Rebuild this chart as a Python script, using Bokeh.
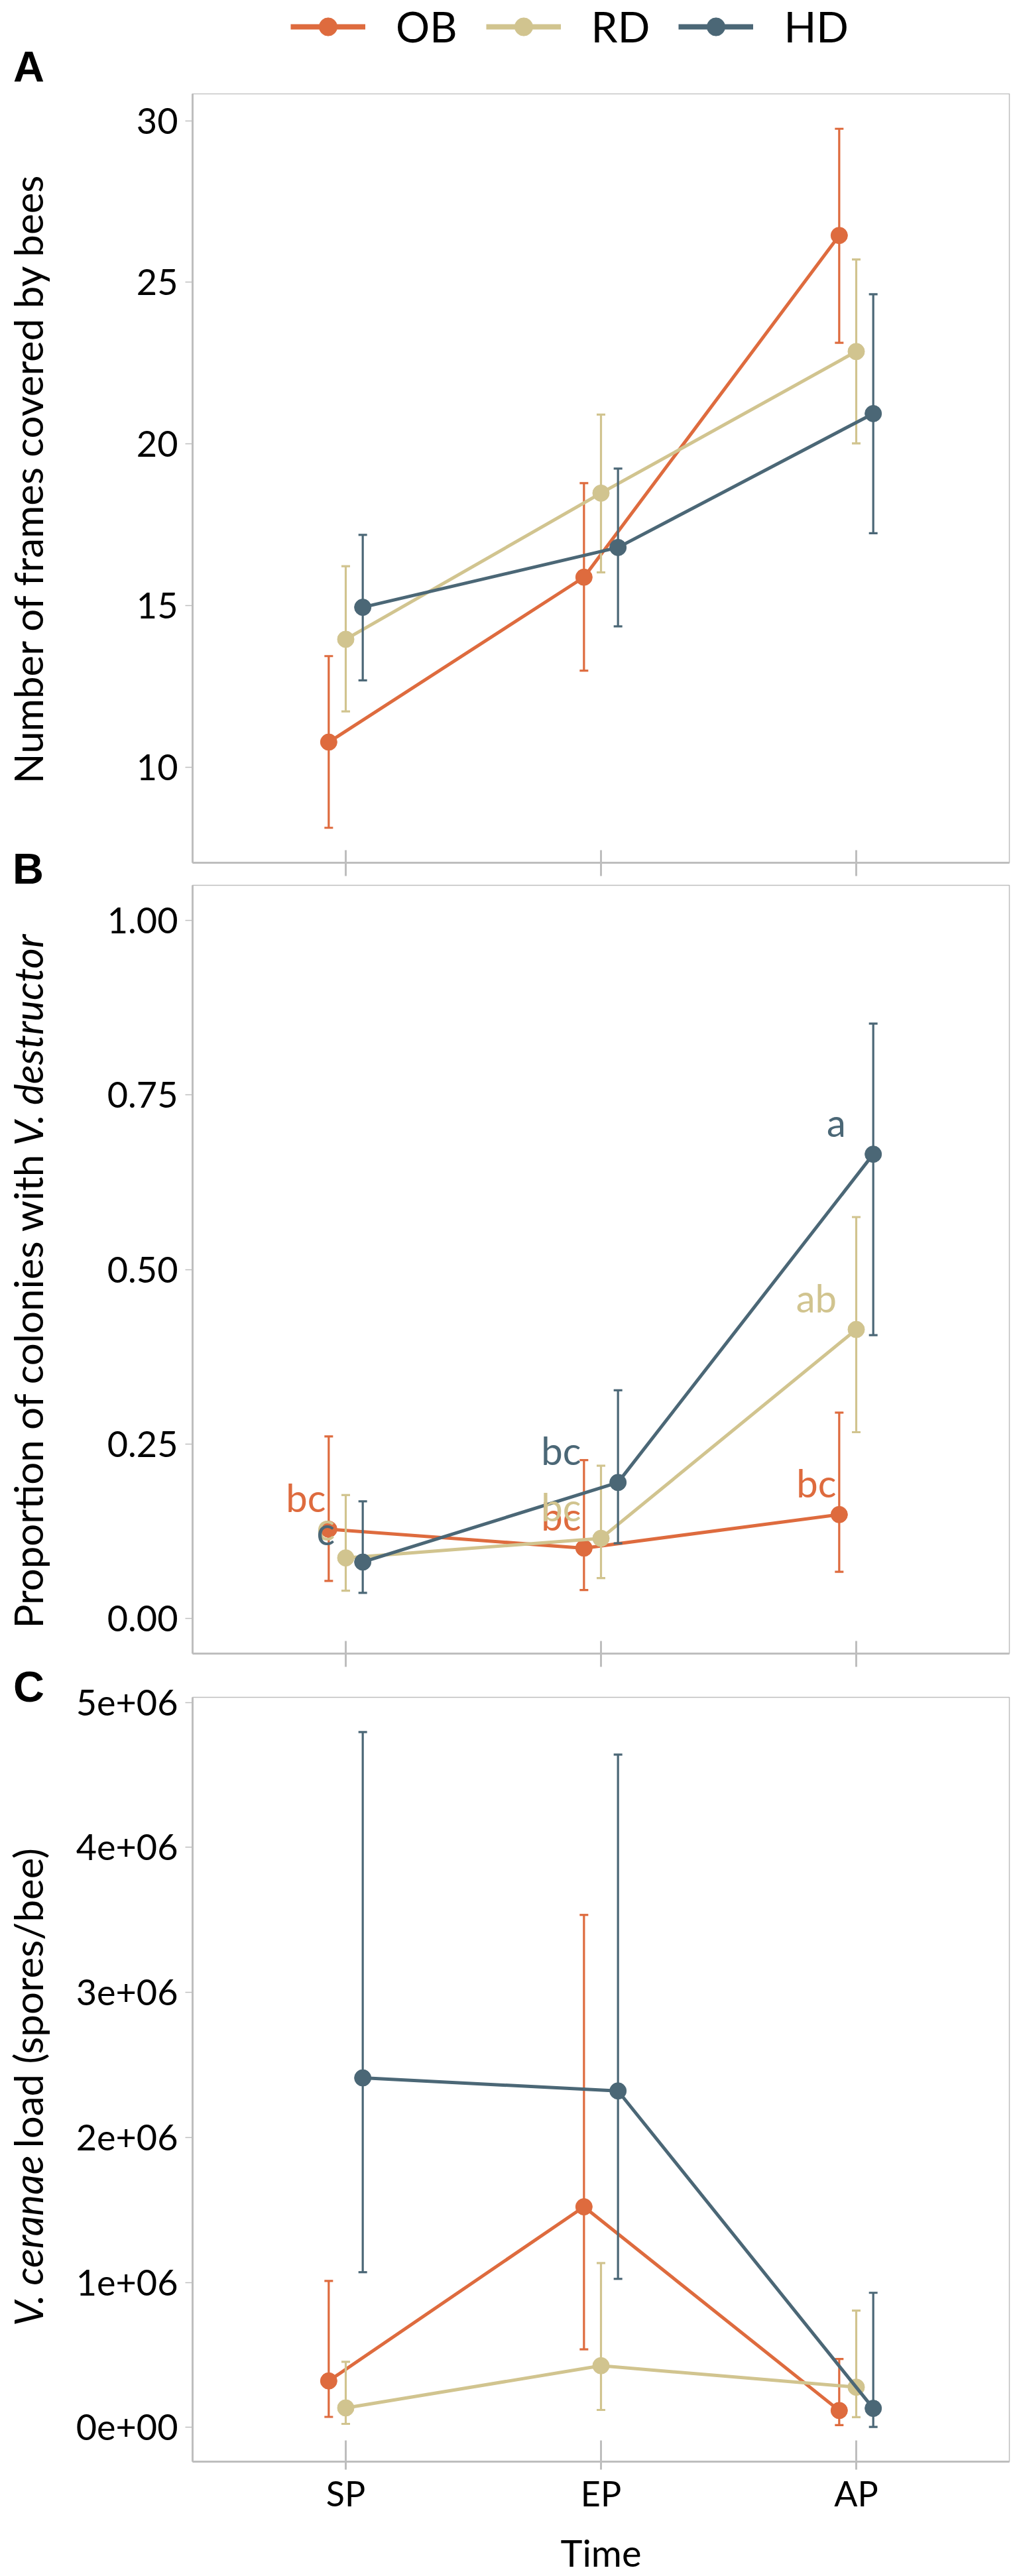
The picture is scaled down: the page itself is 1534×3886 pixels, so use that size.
import math
from bokeh.plotting import figure
from bokeh.models import Legend, LegendItem, FixedTicker, Range1d, ColumnDataSource
from bokeh.layouts import column, row
from bokeh.embed import file_html
from bokeh.resources import INLINE
from bokeh.core.properties import value

# ---------------- data ----------------
times = ["SP", "EP", "AP"]
groups = ["OB", "RD", "HD"]
colors = {"OB": "#DE6B3E", "RD": "#D1C48F", "HD": "#4B6776"}

frames_mean = {"OB": [10.78, 15.88, 26.45], "RD": [13.96, 18.48, 22.86], "HD": [14.95, 16.80, 20.94]}
frames_lo = {"OB": [8.13, 12.99, 23.13], "RD": [11.73, 16.03, 20.02], "HD": [12.69, 14.36, 17.24]}
frames_hi = {"OB": [13.44, 18.79, 29.75], "RD": [16.22, 20.91, 25.71], "HD": [17.19, 19.24, 24.63]}

varroa_mean = {"OB": [0.128, 0.101, 0.149], "RD": [0.087, 0.115, 0.414], "HD": [0.081, 0.195, 0.665]}
varroa_lo = {"OB": [0.054, 0.041, 0.067], "RD": [0.040, 0.058, 0.267], "HD": [0.037, 0.108, 0.406]}
varroa_hi = {"OB": [0.261, 0.227, 0.295], "RD": [0.177, 0.219, 0.575], "HD": [0.168, 0.327, 0.852]}
varroa_letters = {"OB": ["bc", "bc", "bc"], "RD": ["c", "bc", "ab"], "HD": ["c", "bc", "a"]}

nosema_mean = {"OB": [320000, 1521000, 116000], "RD": [134000, 425000, 277000], "HD": [2410000, 2320000, 131000]}
nosema_lo = {"OB": [72000, 538000, 15000], "RD": [24000, 120000, 70000], "HD": [1070000, 1024000, 3000]}
nosema_hi = {"OB": [1010000, 3534000, 471000], "RD": [452000, 1133000, 805000], "HD": [4795000, 4640000, 928000]}

a_ticks = [10, 15, 20, 25, 30]
a_tick_labels = ["10", "15", "20", "25", "30"]
b_ticks = [0, 0.25, 0.5, 0.75, 1.0]
b_tick_labels = ["0.00", "0.25", "0.50", "0.75", "1.00"]
c_ticks = [0, 1000000, 2000000, 3000000, 4000000, 5000000]
c_tick_labels = ["0e+00", "1e+06", "2e+06", "3e+06", "4e+06", "5e+06"]

# ---------------- style ----------------
FONT = "Lato"
GREY = "#BEBEBE"
PAGE_H = 3886
LEFT_W = 100
MAIN_W = 1534 - LEFT_W
dodge = {"OB": -1 / 15, "RD": 0.0, "HD": 1 / 15}
xpos = [1, 2, 3]


def expanded(lo_d, hi_d):
    lo = min(min(v) for v in lo_d.values())
    hi = max(max(v) for v in hi_d.values())
    r = hi - lo
    return lo - 0.05 * r, hi + 0.05 * r


def make_panel(height, top, bottom, yr, ticks, tick_labels, show_x):
    p = figure(width=MAIN_W, height=height, x_range=Range1d(0.4, 3.6), y_range=Range1d(*yr),
               output_backend="svg", toolbar_location=None,
               min_border_left=190, min_border_right=12,
               min_border_top=top, min_border_bottom=bottom)
    p.grid.visible = False
    p.background_fill_color = "white"
    p.border_fill_color = "white"
    p.outline_line_color = GREY
    p.outline_line_width = 1.5

    ya = p.yaxis[0]
    ya.ticker = FixedTicker(ticks=ticks)
    ya.major_label_overrides = {t: l for t, l in zip(ticks, tick_labels)}
    ya.axis_line_color = GREY
    ya.axis_line_width = 3
    ya.major_tick_line_color = GREY
    ya.major_tick_line_width = 1.5
    ya.major_tick_in = 0
    ya.major_tick_out = 11
    ya.minor_tick_line_color = None
    ya.major_label_standoff = 11
    ya.major_label_text_font = FONT
    ya.major_label_text_font_size = "54px"
    ya.major_label_text_color = "black"

    xa = p.xaxis[0]
    xa.ticker = FixedTicker(ticks=xpos)
    xa.major_label_overrides = {t: l for t, l in zip(xpos, times)}
    xa.axis_line_color = GREY
    xa.axis_line_width = 3
    xa.major_tick_line_color = GREY
    xa.major_tick_line_width = 3
    xa.minor_tick_line_color = None
    xa.major_label_text_font = FONT
    if show_x:
        xa.major_tick_in = 32
        xa.major_tick_out = 12
        xa.major_label_standoff = 4
        xa.major_label_text_font_size = "52px"
        xa.major_label_text_color = "black"
        xa.axis_label = "Time"
        xa.axis_label_text_font = FONT
        xa.axis_label_text_font_size = "56px"
        xa.axis_label_text_font_style = "normal"
        xa.axis_label_text_color = "black"
        xa.axis_label_standoff = 22
    else:
        xa.major_tick_in = 19
        xa.major_tick_out = 20
        xa.major_label_standoff = 0
        xa.major_label_text_font_size = "1px"
        xa.major_label_text_alpha = 0
    return p


def draw_series(p, mean, lo, hi):
    for g in groups:
        xs = [x + dodge[g] for x in xpos]
        src = ColumnDataSource(dict(x=xs, y=mean[g], lo=lo[g], hi=hi[g]))
        c = colors[g]
        p.line("x", "y", source=src, line_color=c, line_width=5)
        p.segment(x0="x", y0="lo", x1="x", y1="hi", source=src, line_color=c, line_width=3.2)
        p.scatter("x", "lo", source=src, marker="dash", size=13, line_color=c, line_width=3.2)
        p.scatter("x", "hi", source=src, marker="dash", size=13, line_color=c, line_width=3.2)
        p.scatter("x", "y", source=src, marker="circle", size=25, fill_color=c, line_color=c)


# ---------------- legend strip ----------------
pL = figure(width=MAIN_W, height=141, x_range=Range1d(0, MAIN_W), y_range=Range1d(0, 141),
            output_backend="svg", toolbar_location=None, x_axis_type=None, y_axis_type=None,
            min_border=0)
pL.grid.visible = False
pL.outline_line_color = None
items = []
nan = float("nan")
for g in groups:
    rl = pL.line(x=[nan, nan], y=[nan, nan], line_color=colors[g], line_width=8)
    rp = pL.scatter(x=[nan], y=[nan], marker="circle", fill_color=colors[g], line_color=colors[g])
    items.append(LegendItem(label=g, renderers=[rl, rp]))
legend = Legend(items=items, orientation="horizontal", location=(148, 63),
                glyph_width=113, glyph_height=68, label_standoff=46, spacing=43,
                padding=0, margin=0, border_line_color=None, background_fill_alpha=0,
                label_text_font=FONT, label_text_font_size="64px", label_text_color="black")
pL.add_layout(legend, "center")

# ---------------- panel A ----------------
pA = make_panel(1193, 0, 33, expanded(frames_lo, frames_hi), a_ticks, a_tick_labels, False)
draw_series(pA, frames_mean, frames_lo, frames_hi)

# ---------------- panel B ----------------
pB = make_panel(1185, 1, 25, (-0.05, 1.05), b_ticks, b_tick_labels, False)
draw_series(pB, varroa_mean, varroa_lo, varroa_hi)
for g in groups:
    lx = [x - 0.078 * len(t) for x, t in zip(xpos, varroa_letters[g])]
    ly = [m + 0.046 for m in varroa_mean[g]]
    pB.text(x=lx, y=ly, text=varroa_letters[g], text_color=colors[g],
            text_font=value(FONT), text_font_size="58px",
            text_align="center", text_baseline="middle")

# ---------------- panel C ----------------
pC = make_panel(1367, 41, 162, expanded(nosema_lo, nosema_hi), c_ticks, c_tick_labels, True)
draw_series(pC, nosema_mean, nosema_lo, nosema_hi)

# ---------------- left strip: axis titles and panel letters ----------------
pS = figure(width=LEFT_W, height=PAGE_H, x_range=Range1d(0, LEFT_W), y_range=Range1d(0, PAGE_H),
            output_backend="svg", toolbar_location=None, x_axis_type=None, y_axis_type=None,
            min_border=0)
pS.grid.visible = False
pS.outline_line_color = None


def vtext(txt, page_y, align, italic=False):
    pS.text(x=[41], y=[PAGE_H - page_y], text=[txt], angle=math.pi / 2,
            text_align=align, text_baseline="middle", text_color="black",
            text_font=value(FONT), text_font_size="60px",
            text_font_style="italic" if italic else "normal")


def letter(txt, page_x, page_y):
    pS.text(x=[page_x], y=[PAGE_H - page_y], text=[txt], text_align="center",
            text_baseline="middle", text_color="black",
            text_font=value("Liberation Sans"), text_font_size="65px", text_font_style="bold")


vtext("Number of frames covered by bees", 721, "center")
vtext("Proportion of colonies with", 1739, "right")
vtext("V. destructor", 1728, "left", italic=True)
vtext("V. ceranae", 3251, "right", italic=True)
vtext("load (spores/bee)", 3240, "left")
letter("A", 43, 100)
letter("B", 42, 1310)
letter("C", 43, 2544)

layout = row(pS, column(pL, pA, pB, pC))
open("out.html", "w").write(file_html(layout, INLINE))
